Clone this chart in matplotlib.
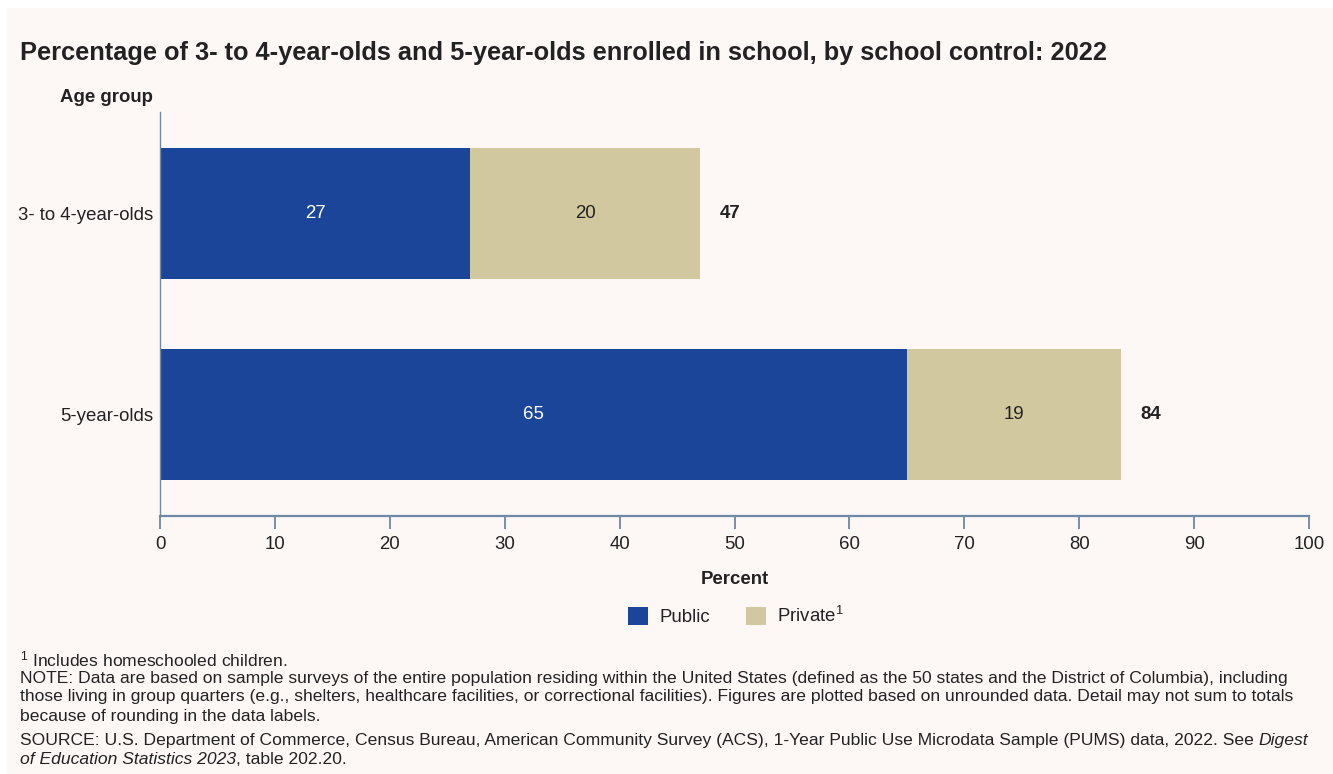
import matplotlib
matplotlib.use("Agg")
import matplotlib.pyplot as plt
from matplotlib.patches import Rectangle, Patch

plt.rcParams["font.family"] = ["Liberation Sans", "DejaVu Sans"]
plt.rcParams["mathtext.fontset"] = "custom"
plt.rcParams["mathtext.rm"] = "Liberation Sans"
plt.rcParams["mathtext.it"] = "Liberation Sans:italic"
plt.rcParams["mathtext.default"] = "regular"

# Data
age_groups = ["3- to 4-year-olds", "5-year-olds"]
public = [27.0, 65.0]
private = [20.0, 18.6]
series_names = ["Public", "Private$^{1}$"]
x_ticks = [0, 10, 20, 30, 40, 50, 60, 70, 80, 90, 100]

PUBLIC_COLOR = "#1b4598"
PRIVATE_COLOR = "#d1c8a0"
PANEL_COLOR = "#fdf8f6"
AXIS_COLOR = "#6f89a5"
TEXT_COLOR = "#222222"

W, H = 1333, 774
fig = plt.figure(figsize=(W / 100, H / 100), dpi=100, facecolor="white")

# Tinted panel behind everything
fig.patches.append(Rectangle((7 / W, 0), 1 - 7 / W, 1 - 8 / H,
                             transform=fig.transFigure, facecolor=PANEL_COLOR,
                             edgecolor="none", zorder=-5))


def px(x, y):
    return x / W, 1 - y / H


ax = fig.add_axes([160 / W, 1 - 516 / H, (1309 - 160) / W, (516 - 112) / H])
ax.set_facecolor("none")
ax.set_zorder(2)

ypos = list(range(len(age_groups)))
bar_h = 0.647
ax.barh(ypos, public, height=bar_h, color=PUBLIC_COLOR, zorder=2)
ax.barh(ypos, private, left=public, height=bar_h, color=PRIVATE_COLOR, zorder=2)

for i in ypos:
    ax.text(public[i] / 2, i, f"{public[i]:.0f}", ha="center", va="center",
            color="white", fontsize=13.4)
    ax.text(public[i] + private[i] / 2, i, f"{private[i]:.0f}", ha="center",
            va="center", color=TEXT_COLOR, fontsize=13.4)
    total = public[i] + private[i]
    ax.text(total + 1.7, i, f"{total:.0f}", ha="left", va="center",
            color=TEXT_COLOR, fontsize=13.4, fontweight="bold")

ax.set_xlim(0, 100)
ax.set_ylim(1.505, -0.505)
ax.set_xticks(x_ticks)
ax.set_yticks(ypos)
ax.set_yticklabels(age_groups)

for side in ["top", "right"]:
    ax.spines[side].set_visible(False)
ax.spines["left"].set_color(AXIS_COLOR)
ax.spines["left"].set_linewidth(1.0)
ax.spines["bottom"].set_color(AXIS_COLOR)
ax.spines["bottom"].set_linewidth(1.6)

ax.tick_params(axis="x", direction="out", length=9.5, width=1.3,
               color=AXIS_COLOR, labelsize=13.4, labelcolor=TEXT_COLOR, pad=5)
ax.tick_params(axis="y", length=0, labelsize=13.4, labelcolor=TEXT_COLOR, pad=5)

# Titles and axis names
fig.text(*px(20, 53), "Percentage of 3- to 4-year-olds and 5-year-olds enrolled "
         "in school, by school control: 2022", ha="left", va="center",
         fontsize=18.3, fontweight="bold", color=TEXT_COLOR)
fig.text(*px(106, 97), "Age group", ha="center", va="center", fontsize=13.4,
         fontweight="bold", color=TEXT_COLOR)
fig.text(*px(734.5, 580), "Percent", ha="center", va="center", fontsize=13.4,
         fontweight="bold", color=TEXT_COLOR)

# Legend
handles = [Patch(facecolor=PUBLIC_COLOR, edgecolor="none"),
           Patch(facecolor=PRIVATE_COLOR, edgecolor="none")]
fig.legend(handles, series_names, loc="center", bbox_to_anchor=px(736, 616),
           ncol=2, frameon=False, fontsize=13.4, handlelength=1.1,
           handleheight=1.1, handletextpad=0.6, columnspacing=1.9,
           labelcolor=TEXT_COLOR)

# Footnotes, with inline italic runs
renderer = fig.canvas.get_renderer()


def note_line(y, runs, size=12.6):
    x = 20
    for txt, style in runs:
        t = fig.text(*px(x, y), txt, ha="left", va="center", fontsize=size,
                     style=style, color=TEXT_COLOR)
        bb = t.get_window_extent(renderer=renderer)
        x += bb.width


lines = [
    [("$^{1}$ Includes homeschooled children.", "normal")],
    [("NOTE: Data are based on sample surveys of the entire population residing "
      "within the United States (defined as the 50 states and the District of "
      "Columbia), including", "normal")],
    [("those living in group quarters (e.g., shelters, healthcare facilities, or "
      "correctional facilities). Figures are plotted based on unrounded data. "
      "Detail may not sum to totals", "normal")],
    [("because of rounding in the data labels.", "normal")],
    [("SOURCE: U.S. Department of Commerce, Census Bureau, American Community "
      "Survey (ACS), 1-Year Public Use Microdata Sample (PUMS) data, 2022. See ",
      "normal"), ("Digest", "italic")],
    [("of Education Statistics 2023", "italic"), (", table 202.20.", "normal")],
]
ys = [659, 678, 697, 716, 740, 759]
for y, runs in zip(ys, lines):
    note_line(y, runs)

fig.savefig("out.png", dpi=100, facecolor=fig.get_facecolor())
